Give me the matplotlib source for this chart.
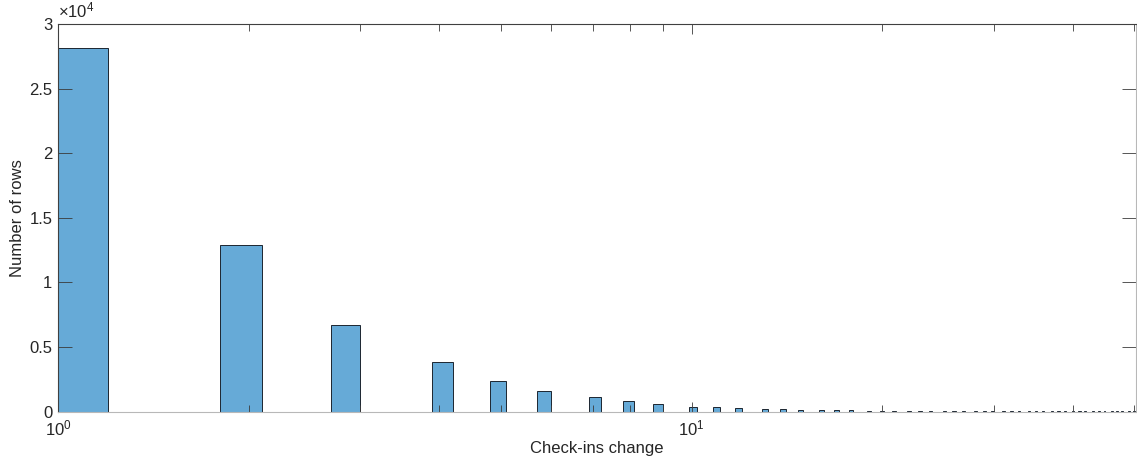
import numpy as np
import matplotlib
matplotlib.use("Agg")
import matplotlib.pyplot as plt
from matplotlib.ticker import FixedLocator, FuncFormatter, NullFormatter

# Check-ins change values and how many rows have each value
changes = list(range(1, 51))
counts = [28170, 12880, 6720, 3820, 2400, 1600, 1110, 800, 570, 390,
          330, 265, 210, 195, 135, 120, 105, 95, 85, 80,
          68, 62, 58, 54, 50, 47, 44, 42, 40, 38,
          36, 35, 34, 33, 32, 31, 30, 30, 29, 28,
          28, 27, 27, 26, 26, 25, 25, 25, 24, 24]

y_ticks = [0, 5000, 10000, 15000, 20000, 25000, 30000]
x_major = [1, 10]
x_minor = [2, 3, 4, 5, 6, 7, 8, 9, 20, 30, 40, 50]

bin_w = 0.3
# histogram bins of fixed width 0.3 on a 0.3 grid
lefts = [bin_w * np.floor(v / bin_w - 1e-9) for v in changes]

plt.rcParams['font.family'] = ['Liberation Sans', 'DejaVu Sans']
plt.rcParams['mathtext.fontset'] = 'custom'
plt.rcParams['mathtext.rm'] = 'Liberation Sans'
plt.rcParams['mathtext.it'] = 'Liberation Sans'

fig = plt.figure(figsize=(11.37, 4.61), dpi=100)
ax = fig.add_axes([58 / 1137, 1 - 411.7 / 461, 1 - 58 / 1137 - 0.0008, (411.7 - 24) / 461])

face = (0.4, 0.668, 0.845)
ax.bar(lefts, counts, width=bin_w, align='edge', color=face,
       edgecolor='#1c2530', linewidth=0.7)

ax.set_xscale('log')
ax.set_xlim(1, 50.3)
ax.set_ylim(0, 30000)

ax.xaxis.set_major_locator(FixedLocator(x_major))
ax.xaxis.set_minor_locator(FixedLocator(x_minor))
ax.xaxis.set_minor_formatter(NullFormatter())
ax.xaxis.set_major_formatter(FuncFormatter(lambda v, p: r'$10^{%d}$' % round(np.log10(v))))
ax.yaxis.set_major_locator(FixedLocator(y_ticks))
ax.yaxis.set_major_formatter(FuncFormatter(lambda v, p: '%g' % (v / 1e4)))

tick_col = '#3a3a3a'
ax.tick_params(axis='both', which='both', direction='in', top=True, right=True,
               colors=tick_col, labelcolor='#262626', labelsize=12)
ax.tick_params(axis='x', which='major', length=7, width=0.6, pad=5)
ax.tick_params(axis='x', which='minor', length=5, width=0.6)
ax.tick_params(axis='y', which='major', length=10, width=0.6, pad=4)

for side in ['left', 'top']:
    ax.spines[side].set_color('#404040')
    ax.spines[side].set_linewidth(0.8)
for side in ['bottom', 'right']:
    ax.spines[side].set_color('#b8b8b8')
    ax.spines[side].set_linewidth(0.8)

ax.set_xlabel('Check-ins change', fontsize=12, color='#262626', labelpad=2)
ax.set_ylabel('Number of rows', fontsize=12, color='#262626', labelpad=3)
ax.text(0.0, 1.008, r'$\times10^{4}$', transform=ax.transAxes, fontsize=12,
        color='#262626', ha='left', va='bottom')

fig.savefig('out.png', dpi=100)
